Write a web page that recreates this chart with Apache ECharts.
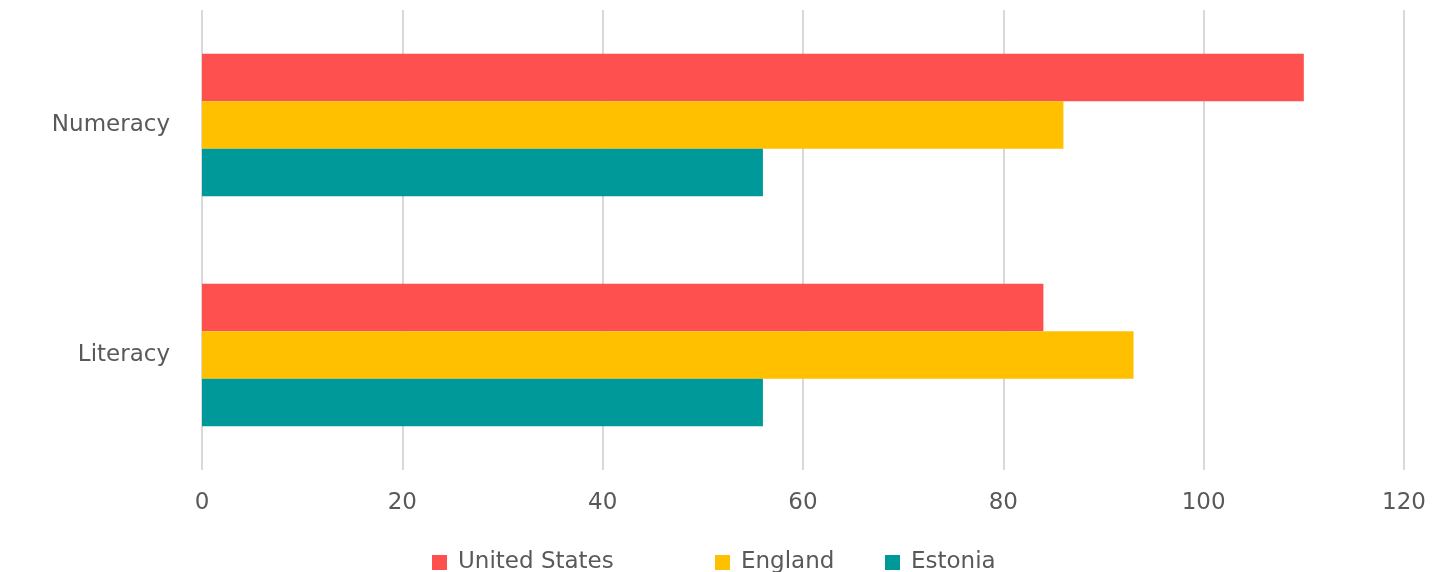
<!DOCTYPE html>
<html>
<head>
<meta charset="utf-8">
<script src="https://cdn.jsdelivr.net/npm/echarts@6/dist/echarts.min.js"></script>
<style>html,body{margin:0;padding:0;background:#fff;}#main{width:1434px;height:572px;}</style>
</head>
<body>
<div id="main"></div>
<script>
var categories = ['Numeracy', 'Literacy'];
var seriesNames = ['United States', 'England', 'Estonia'];
var unitedStates = [110, 84];
var england = [86, 93];
var estonia = [56, 56];
var xTicks = [0, 20, 40, 60, 80, 100, 120];
var colors = ['#FF5050', '#FFC000', '#009999'];

var chart = echarts.init(document.getElementById('main'));
var font = '"DejaVu Sans", sans-serif';
var dataSets = [unitedStates, england, estonia];
var legendLefts = [427, 710, 880];
chart.setOption({
  animation: false,
  grid: { left: 202, right: 30, top: 10, bottom: 102, containLabel: false },
  legend: seriesNames.map(function (n, i) {
    return {
      top: 546, left: legendLefts[i],
      itemWidth: 15, itemHeight: 15, itemGap: 20,
      icon: 'rect',
      textStyle: { fontFamily: font, fontSize: 23, color: '#595959', padding: [0, 0, 0, 6] },
      data: [n]
    };
  }),
  xAxis: {
    type: 'value', min: xTicks[0], max: xTicks[xTicks.length - 1], interval: 20,
    axisLine: { show: false }, axisTick: { show: false },
    splitLine: { lineStyle: { color: '#D9D9D9', width: 2 } },
    axisLabel: { fontFamily: font, fontSize: 23, color: '#595959', margin: 22 }
  },
  yAxis: {
    type: 'category', data: categories, inverse: true,
    axisLine: { show: false }, axisTick: { show: false },
    axisLabel: { fontFamily: font, fontSize: 23, color: '#595959', margin: 32 }
  },
  series: seriesNames.map(function (n, i) {
    return {
      name: n, type: 'bar', data: dataSets[i],
      barGap: '0%', barCategoryGap: '38%',
      itemStyle: { color: colors[i] }
    };
  })
});
</script>
</body>
</html>
